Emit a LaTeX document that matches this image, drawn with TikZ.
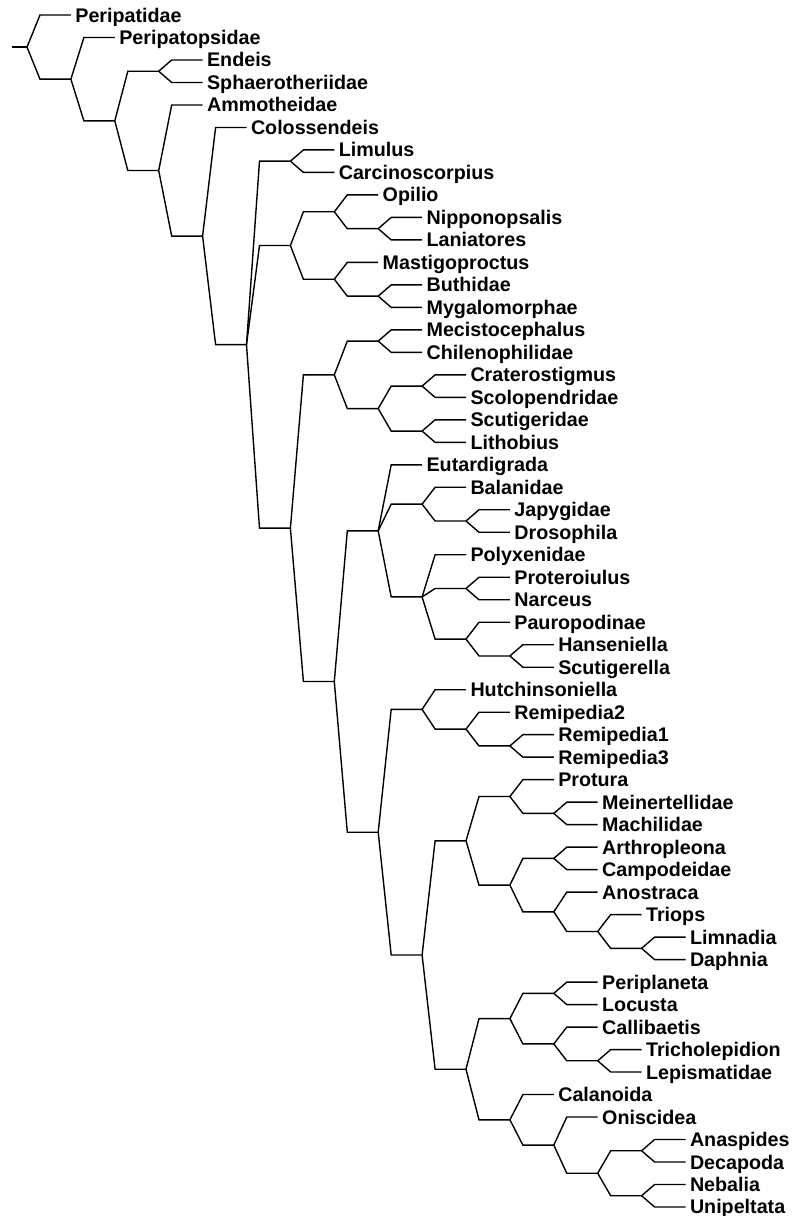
\documentclass[tikz,border=0pt]{standalone}
\usepackage{fontspec}
\setmainfont{Liberation Sans}
\usetikzlibrary{calc}
\tikzset{
  % --- branches and taxa
  br/.style    = {draw=black, line width=1.4pt},
  taxon/.style = {anchor=base west, font=\fontsize{19.7}{22}\selectfont\bfseries,
                  inner xsep=4.3pt, yshift=-7pt},
}
% clade node: depth, first and last child
\newcommand{\clade}[4]{\path let \p1=($(#3)!.5!(#4)$) in coordinate (#1) at ({(27+43.9*#2)*1pt},\y1);}
% branches from a clade node to its children
\newcommand{\br}[2]{\foreach \ch in {#2} \draw[br] (#1) -- ($(#1|-\ch)+(13,0)$) -- (\ch);}

\begin{document}
\begin{tikzpicture}[x=1pt,y=-1pt]
  \useasboundingbox (0,0) rectangle (792,1216);
  % taxa, top to bottom (name/depth)
  \foreach \t/\d [count=\i from 0] in {Peripatidae/1, Peripatopsidae/2, Endeis/4, Sphaerotheriidae/4,
      Ammotheidae/4, Colossendeis/5, Limulus/7, Carcinoscorpius/7, Opilio/8, Nipponopsalis/9,
      Laniatores/9, Mastigoproctus/8, Buthidae/9, Mygalomorphae/9, Mecistocephalus/9,
      Chilenophilidae/9, Craterostigmus/10, Scolopendridae/10, Scutigeridae/10, Lithobius/10,
      Eutardigrada/9, Balanidae/10, Japygidae/11, Drosophila/11, Polyxenidae/10, Proteroiulus/11,
      Narceus/11, Pauropodinae/11, Hanseniella/12, Scutigerella/12, Hutchinsoniella/10,
      Remipedia2/11, Remipedia1/12, Remipedia3/12, Protura/12, Meinertellidae/13, Machilidae/13,
      Arthropleona/13, Campodeidae/13, Anostraca/13, Triops/14, Limnadia/15, Daphnia/15,
      Periplaneta/13, Locusta/13, Callibaetis/13, Tricholepidion/14, Lepismatidae/14,
      Calanoida/12, Oniscidea/13, Anaspides/15, Decapoda/15, Nebalia/15, Unipeltata/15} {
    \coordinate (\t) at ({27+43.9*\d},{15+22.49*\i});
    \node[taxon] (\t-lbl) at (\t) {\t};
  }
  % clades, deepest first
  \clade{n49}{14}{Nebalia}{Unipeltata}
  \clade{n48}{14}{Anaspides}{Decapoda}
  \clade{n47}{13}{n48}{n49}
  \clade{n46}{12}{Oniscidea}{n47}
  \clade{n45}{11}{Calanoida}{n46}
  \clade{n44}{13}{Tricholepidion}{Lepismatidae}
  \clade{n43}{12}{Callibaetis}{n44}
  \clade{n42}{12}{Periplaneta}{Locusta}
  \clade{n41}{11}{n42}{n43}
  \clade{n40}{10}{n41}{n45}
  \clade{n39}{14}{Limnadia}{Daphnia}
  \clade{n38}{13}{Triops}{n39}
  \clade{n37}{12}{Anostraca}{n38}
  \clade{n36}{12}{Arthropleona}{Campodeidae}
  \clade{n35}{11}{n36}{n37}
  \clade{n34}{12}{Meinertellidae}{Machilidae}
  \clade{n33}{11}{Protura}{n34}
  \clade{n32}{10}{n33}{n35}
  \clade{n31}{9}{n32}{n40}
  \clade{n30}{11}{Remipedia1}{Remipedia3}
  \clade{n29}{10}{Remipedia2}{n30}
  \clade{n28}{9}{Hutchinsoniella}{n29}
  \clade{n27}{8}{n28}{n31}
  \clade{n26}{11}{Hanseniella}{Scutigerella}
  \clade{n25}{10}{Pauropodinae}{n26}
  \clade{n24}{10}{Proteroiulus}{Narceus}
  \clade{n23}{9}{Polyxenidae}{n25}
  \clade{n22}{10}{Japygidae}{Drosophila}
  \clade{n21}{9}{Balanidae}{n22}
  \clade{n20}{8}{Eutardigrada}{n23}
  \clade{n19}{7}{n20}{n27}
  \clade{n18}{9}{Scutigeridae}{Lithobius}
  \clade{n17}{9}{Craterostigmus}{Scolopendridae}
  \clade{n16}{8}{n17}{n18}
  \clade{n15}{8}{Mecistocephalus}{Chilenophilidae}
  \clade{n14}{7}{n15}{n16}
  \clade{n13}{6}{n14}{n19}
  \clade{n12}{8}{Buthidae}{Mygalomorphae}
  \clade{n11}{7}{Mastigoproctus}{n12}
  \clade{n10}{8}{Nipponopsalis}{Laniatores}
  \clade{n9}{7}{Opilio}{n10}
  \clade{n8}{6}{n9}{n11}
  \clade{n7}{6}{Limulus}{Carcinoscorpius}
  \clade{n6}{5}{n7}{n13}
  \clade{n5}{4}{Colossendeis}{n6}
  \clade{n4}{3}{Ammotheidae}{n5}
  \clade{n3}{3}{Endeis}{Sphaerotheriidae}
  \clade{n2}{2}{n3}{n4}
  \clade{n1}{1}{Peripatopsidae}{n2}
  \clade{root}{0}{Peripatidae}{n1}
  \coordinate (stem) at ($(root)+(-15,0)$);
  % branches
  \draw[br] (stem) -- (root);
  \br{root}{Peripatidae,n1} \br{n1}{Peripatopsidae,n2} \br{n2}{n3,n4}
  \br{n3}{Endeis,Sphaerotheriidae} \br{n4}{Ammotheidae,n5} \br{n5}{Colossendeis,n6}
  \br{n6}{n7,n8,n13} \br{n7}{Limulus,Carcinoscorpius} \br{n8}{n9,n11}
  \br{n9}{Opilio,n10} \br{n10}{Nipponopsalis,Laniatores}
  \br{n11}{Mastigoproctus,n12} \br{n12}{Buthidae,Mygalomorphae}
  \br{n13}{n14,n19} \br{n14}{n15,n16} \br{n15}{Mecistocephalus,Chilenophilidae}
  \br{n16}{n17,n18} \br{n17}{Craterostigmus,Scolopendridae} \br{n18}{Scutigeridae,Lithobius}
  \br{n19}{n20,n27} \br{n20}{Eutardigrada,n21,n23} \br{n21}{Balanidae,n22}
  \br{n22}{Japygidae,Drosophila} \br{n23}{Polyxenidae,n24,n25} \br{n24}{Proteroiulus,Narceus}
  \br{n25}{Pauropodinae,n26} \br{n26}{Hanseniella,Scutigerella}
  \br{n27}{n28,n31} \br{n28}{Hutchinsoniella,n29} \br{n29}{Remipedia2,n30}
  \br{n30}{Remipedia1,Remipedia3} \br{n31}{n32,n40} \br{n32}{n33,n35}
  \br{n33}{Protura,n34} \br{n34}{Meinertellidae,Machilidae} \br{n35}{n36,n37}
  \br{n36}{Arthropleona,Campodeidae} \br{n37}{Anostraca,n38} \br{n38}{Triops,n39}
  \br{n39}{Limnadia,Daphnia} \br{n40}{n41,n45} \br{n41}{n42,n43}
  \br{n42}{Periplaneta,Locusta} \br{n43}{Callibaetis,n44} \br{n44}{Tricholepidion,Lepismatidae}
  \br{n45}{Calanoida,n46} \br{n46}{Oniscidea,n47} \br{n47}{n48,n49}
  \br{n48}{Anaspides,Decapoda} \br{n49}{Nebalia,Unipeltata}
\end{tikzpicture}
\end{document}
